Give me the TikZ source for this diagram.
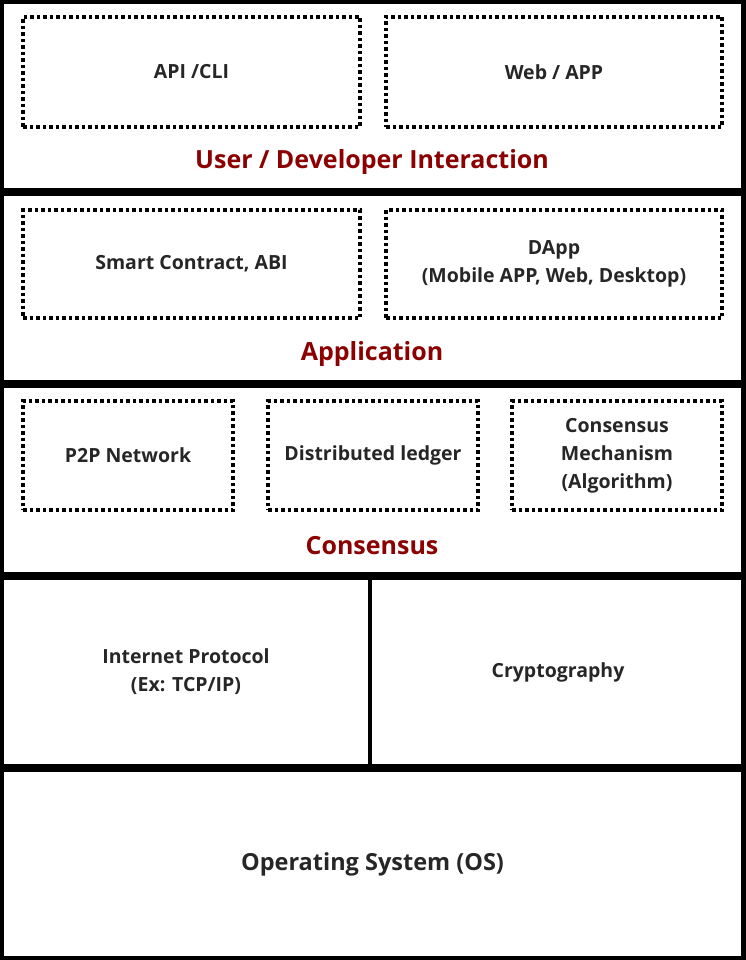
\documentclass[tikz,border=0pt]{standalone}
\usepackage{fontspec}
\setmainfont{Open Sans}
\definecolor{textgray}{HTML}{262626}
\definecolor{titlered}{HTML}{8B0000}
\begin{document}
\begin{tikzpicture}[x=1pt,y=-1pt,
    layer/.style={draw,line width=8pt,inner sep=0pt,anchor=north west,
      minimum width=745pt,minimum height=192pt},
    label/.style={align=center,text=textgray,font=\fontsize{19.5}{28}\selectfont\bfseries},
    dotbox/.style={label,draw,line width=3.5pt,dash pattern=on 3.5pt off 3pt,inner sep=0pt},
    title/.style={text=titlered,font=\fontsize{25}{28}\selectfont\bfseries}]
  \tikzset{every node/.append style={outer sep=0pt}}
  \useasboundingbox (0,0) rectangle (745,960);
  % layers
  \node[layer] (user) at (0,0) {};
  \node[layer] (app) at (0,192) {};
  \node[layer] (cons) at (0,384) {};
  \node[layer] (base) at (0,576) {};
  \node[layer,font=\fontsize{23.5}{28}\selectfont\bfseries,text=textgray] (os) at (0,768)
    {Operating System (OS)};
  \coordinate (divtop) at (370,576);
  \coordinate (divbot) at (370,768);
  \draw[line width=4pt] (divtop) -- (divbot);
  \node[label] (ip) at (186,672) {Internet Protocol\\(Ex: TCP/IP)};
  \node[label] (crypto) at (558,672) {Cryptography};
  % user / developer interaction
  \node[dotbox,minimum width=337pt,minimum height=110pt] (api) at (191.5,72) {API /CLI};
  \node[dotbox,minimum width=336pt,minimum height=110pt] (web) at (554,72) {Web / APP};
  \node[title] (usertitle) at (372,162) {User / Developer Interaction};
  % application
  \node[dotbox,minimum width=337pt,minimum height=108pt] (smart) at (191.5,264) {Smart Contract, ABI};
  \node[dotbox,minimum width=336pt,minimum height=108pt] (dapp) at (554,264) {DApp\\(Mobile APP, Web, Desktop)};
  \node[title] (apptitle) at (372,354) {Application};
  % consensus
  \node[dotbox,minimum width=210pt,minimum height=109pt] (p2p) at (128,455.5) {P2P Network};
  \node[dotbox,minimum width=210pt,minimum height=109pt] (ledger) at (373,455.5) {Distributed ledger};
  \node[dotbox,minimum width=210pt,minimum height=109pt] (mech) at (617,455.5) {Consensus\\Mechanism\\(Algorithm)};
  \node[title] (constitle) at (372,546) {Consensus};
\end{tikzpicture}
\end{document}
